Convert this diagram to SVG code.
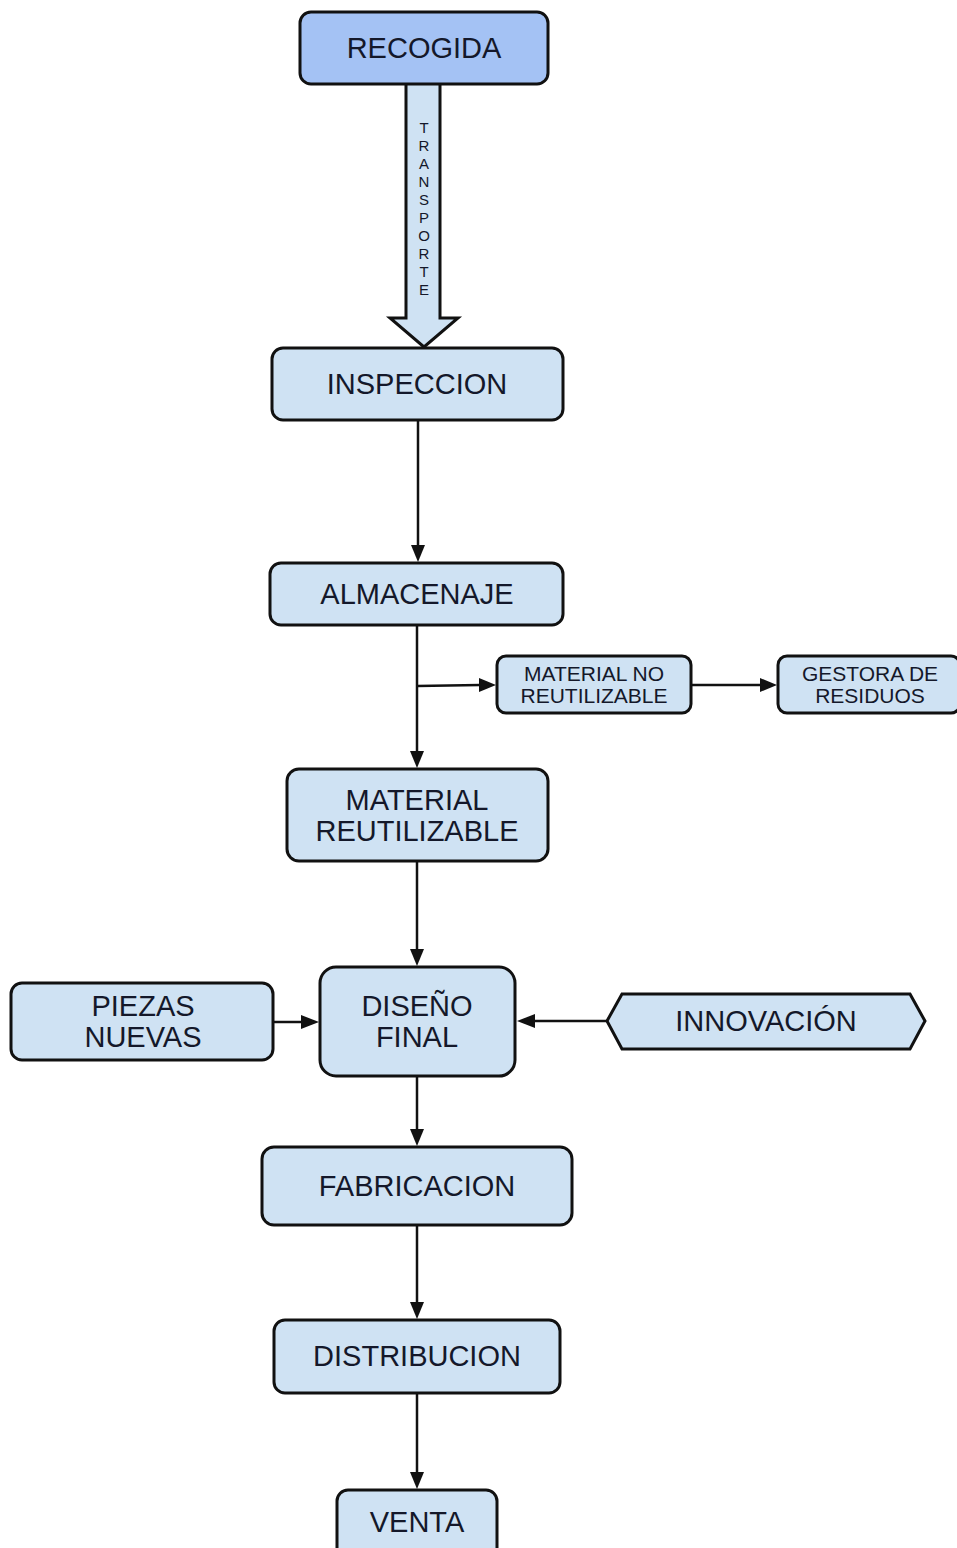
<svg xmlns="http://www.w3.org/2000/svg" width="957" height="1548" viewBox="0 0 957 1548">
<style>
.n{fill:#cfe2f3;stroke:#111;stroke-width:3}
.t{font-family:"Liberation Sans",Arial,sans-serif;font-size:29px;fill:#14182a;text-anchor:middle}
.s{font-size:21px}
.c{stroke:#111;stroke-width:2.5;fill:none}
</style>
<rect width="957" height="1548" fill="#fff"/>
<g id="connectors">
<path d="M406,84 L406,318 L390,318 L424,347 L458,318 L440,318 L440,84" fill="#cfe2f3" stroke="#111" stroke-width="3" stroke-linejoin="miter"/>
<text class="t" style="font-size:15px"><tspan x="424" y="133">T</tspan><tspan x="424" y="151">R</tspan><tspan x="424" y="169">A</tspan><tspan x="424" y="187">N</tspan><tspan x="424" y="205">S</tspan><tspan x="424" y="223">P</tspan><tspan x="424" y="241">O</tspan><tspan x="424" y="259">R</tspan><tspan x="424" y="277">T</tspan><tspan x="424" y="295">E</tspan></text>
<path class="c" d="M418,420 L418,545"/><path d="M411,545 L425,545 L418,562 z" fill="#111"/>
<path class="c" d="M417,625 L417,751"/><path d="M410,751 L424,751 L417,768 z" fill="#111"/>
<path class="c" d="M417,686 L480,685"/><path d="M479,678 L479,692 L496,685 z" fill="#111"/>
<path class="c" d="M691,685 L761,685"/><path d="M760,678 L760,692 L777,685 z" fill="#111"/>
<path class="c" d="M417,861 L417,949"/><path d="M410,949 L424,949 L417,966 z" fill="#111"/>
<path class="c" d="M273,1022 L302,1022"/><path d="M301,1015 L301,1029 L319,1022 z" fill="#111"/>
<path class="c" d="M607,1021 L534,1021"/><path d="M535,1014 L535,1028 L517,1021 z" fill="#111"/>
<path class="c" d="M417,1076 L417,1129"/><path d="M410,1129 L424,1129 L417,1146 z" fill="#111"/>
<path class="c" d="M417,1225 L417,1302"/><path d="M410,1302 L424,1302 L417,1319 z" fill="#111"/>
<path class="c" d="M417,1393 L417,1472"/><path d="M410,1472 L424,1472 L417,1489 z" fill="#111"/>
</g>
<g id="recogida"><rect class="n" x="300" y="12" width="248" height="72" rx="11" style="fill:#a4c2f4"/><text class="t" x="424" y="58">RECOGIDA</text></g>
<g id="inspeccion"><rect class="n" x="272" y="348" width="291" height="72" rx="11"/><text class="t" x="417" y="394">INSPECCION</text></g>
<g id="almacenaje"><rect class="n" x="270" y="563" width="293" height="62" rx="11"/><text class="t" x="417" y="604">ALMACENAJE</text></g>
<g id="material-no"><rect class="n" x="497" y="656" width="194" height="57" rx="9"/><text class="t s" x="594" y="681">MATERIAL NO</text><text class="t s" x="594" y="703">REUTILIZABLE</text></g>
<g id="gestora"><rect class="n" x="778" y="656" width="182" height="57" rx="9"/><text class="t s" x="870" y="681">GESTORA DE</text><text class="t s" x="870" y="703">RESIDUOS</text></g>
<g id="material-reutilizable"><rect class="n" x="287" y="769" width="261" height="92" rx="12"/><text class="t" x="417" y="810">MATERIAL</text><text class="t" x="417" y="841">REUTILIZABLE</text></g>
<g id="piezas"><rect class="n" x="11" y="983" width="262" height="77" rx="11"/><text class="t" x="143" y="1016">PIEZAS</text><text class="t" x="143" y="1047">NUEVAS</text></g>
<g id="diseno"><rect class="n" x="320" y="967" width="195" height="109" rx="16"/><text class="t" x="417" y="1016">DISEÑO</text><text class="t" x="417" y="1047">FINAL</text></g>
<g id="innovacion"><path class="n" d="M607,1021 L622,994 L910,994 L925,1021 L910,1049 L622,1049 z"/><text class="t" x="766" y="1031">INNOVACIÓN</text></g>
<g id="fabricacion"><rect class="n" x="262" y="1147" width="310" height="78" rx="12"/><text class="t" x="417" y="1196">FABRICACION</text></g>
<g id="distribucion"><rect class="n" x="274" y="1320" width="286" height="73" rx="11"/><text class="t" x="417" y="1366">DISTRIBUCION</text></g>
<g id="venta"><rect class="n" x="337" y="1490" width="160" height="70" rx="11"/><text class="t" x="417" y="1532">VENTA</text></g>
</svg>
